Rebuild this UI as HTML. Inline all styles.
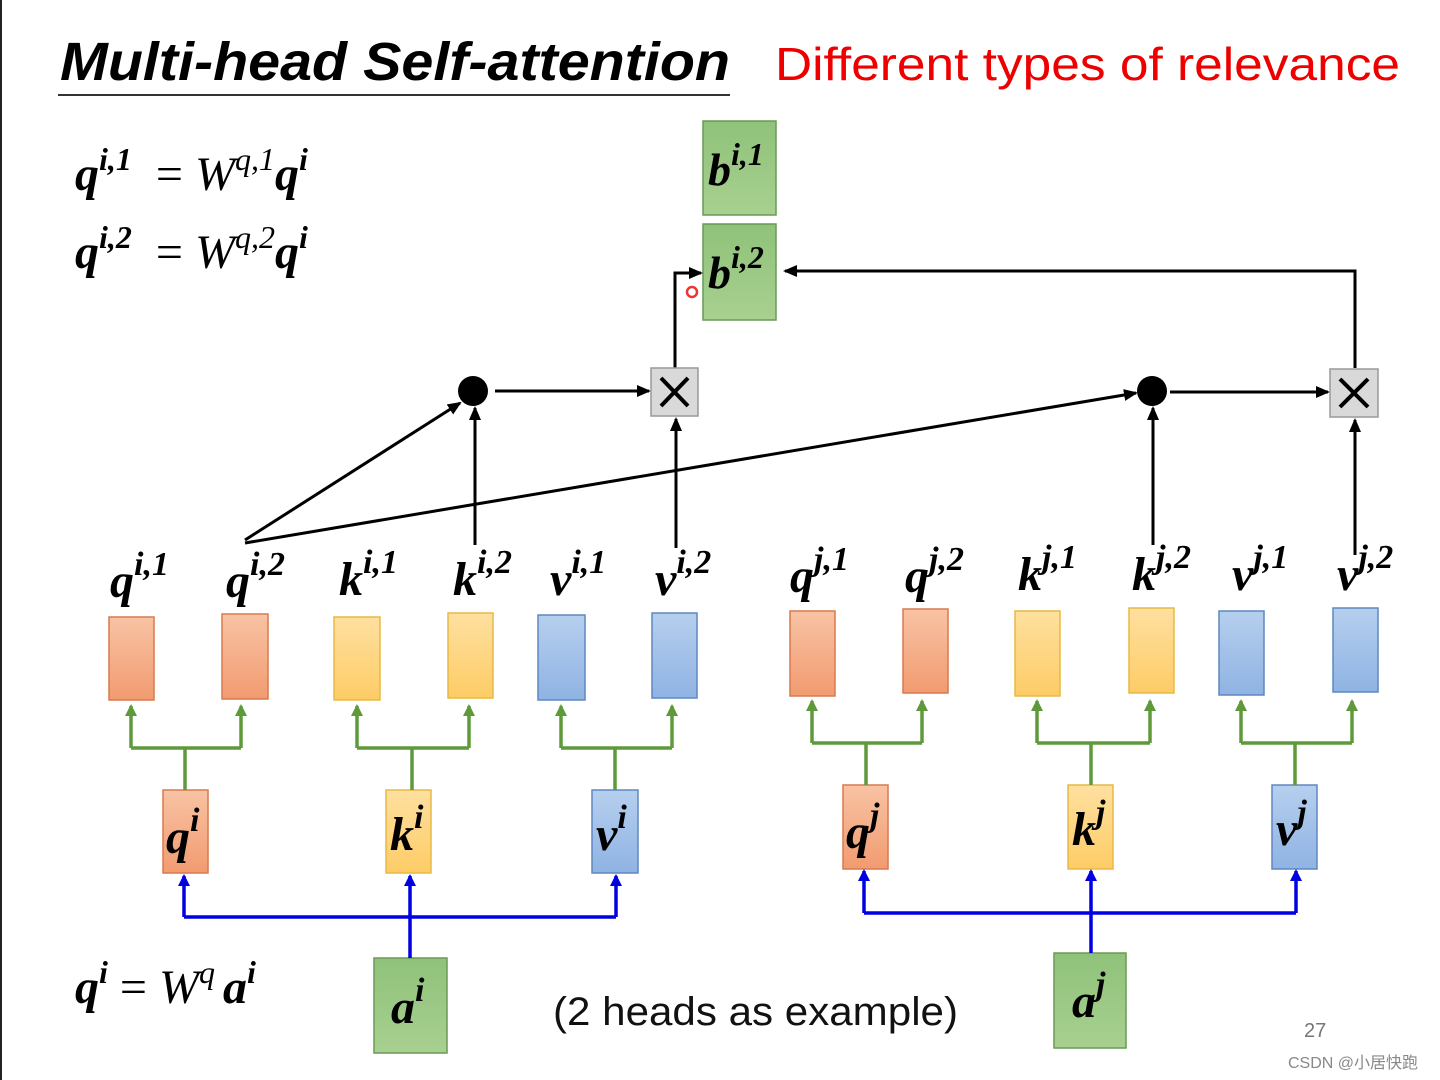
<!DOCTYPE html>
<html><head><meta charset="utf-8"><style>
html,body{margin:0;padding:0;background:#fff;}
svg{display:block;}
.m{font-family:"Liberation Serif",serif;font-weight:bold;font-style:italic;}
</style></head><body>
<svg width="1440" height="1080" viewBox="0 0 1440 1080" xmlns="http://www.w3.org/2000/svg">
<defs>
<marker id="ak" markerWidth="14" markerHeight="12" refX="12" refY="6" orient="auto" markerUnits="userSpaceOnUse"><path d="M0,0 L14,6 L0,12 z" fill="#000"/></marker>
<marker id="ag" markerWidth="12" markerHeight="12" refX="10" refY="6" orient="auto" markerUnits="userSpaceOnUse"><path d="M0,0 L12,6 L0,12 z" fill="#5e9a3a"/></marker>
<marker id="ab" markerWidth="12" markerHeight="12" refX="10" refY="6" orient="auto" markerUnits="userSpaceOnUse"><path d="M0,0 L12,6 L0,12 z" fill="#0000e0"/></marker>
<linearGradient id="gq" x1="0" y1="0" x2="0" y2="1"><stop offset="0" stop-color="#f8c3a4"/><stop offset="1" stop-color="#f29b70"/></linearGradient>
<linearGradient id="gk" x1="0" y1="0" x2="0" y2="1"><stop offset="0" stop-color="#ffe0a0"/><stop offset="1" stop-color="#fdcc66"/></linearGradient>
<linearGradient id="gv" x1="0" y1="0" x2="0" y2="1"><stop offset="0" stop-color="#b6cfee"/><stop offset="1" stop-color="#8fb3e3"/></linearGradient>
<linearGradient id="ga" x1="0" y1="0" x2="0" y2="1"><stop offset="0" stop-color="#8fc27a"/><stop offset="1" stop-color="#a8d090"/></linearGradient>
</defs>
<rect x="0" y="0" width="2" height="1080" fill="#222"/>
<text x="60" y="80" font-family="Liberation Sans,sans-serif" font-weight="bold" font-style="italic" font-size="54" textLength="670" lengthAdjust="spacingAndGlyphs">Multi-head Self-attention</text>
<line x1="58" y1="95" x2="730" y2="95" stroke="#333" stroke-width="2"/>
<text x="775" y="80" font-family="Liberation Sans,sans-serif" font-size="46" fill="#e00" textLength="625" lengthAdjust="spacingAndGlyphs">Different types of relevance</text>
<g class="m" font-size="48">
<text x="75" y="190">q<tspan font-size="32" dy="-20">i,1</tspan><tspan dy="20" font-style="normal" font-weight="normal" xml:space="preserve">  = </tspan><tspan font-weight="normal">W</tspan><tspan font-size="32" dy="-20" font-weight="normal">q,1</tspan><tspan dy="20">q</tspan><tspan font-size="32" dy="-20">i</tspan></text>
<text x="75" y="268">q<tspan font-size="32" dy="-20">i,2</tspan><tspan dy="20" font-style="normal" font-weight="normal" xml:space="preserve">  = </tspan><tspan font-weight="normal">W</tspan><tspan font-size="32" dy="-20" font-weight="normal">q,2</tspan><tspan dy="20">q</tspan><tspan font-size="32" dy="-20">i</tspan></text>
<text x="75" y="1003">q<tspan font-size="32" dy="-20">i</tspan><tspan dy="20" font-style="normal" font-weight="normal" xml:space="preserve"> = </tspan><tspan font-weight="normal">W</tspan><tspan font-size="32" dy="-20" font-weight="normal" xml:space="preserve">q </tspan><tspan dy="20">a</tspan><tspan font-size="32" dy="-20">i</tspan></text>
</g>
<rect x="703" y="121" width="73" height="94" fill="url(#ga)" stroke="#6a9a55" stroke-width="1.5"/>
<rect x="703" y="224" width="73" height="96" fill="url(#ga)" stroke="#6a9a55" stroke-width="1.5"/>
<g class="m" font-size="46">
<text x="708" y="185">b<tspan font-size="32" dy="-20">i,1</tspan></text>
<text x="708" y="288">b<tspan font-size="32" dy="-20">i,2</tspan></text>
</g>
<circle cx="692" cy="292" r="5" fill="none" stroke="#e33" stroke-width="2.5"/>
<g stroke="#000" stroke-width="3" fill="none">
<line x1="245" y1="540" x2="460" y2="403" marker-end="url(#ak)"/>
<line x1="245" y1="543" x2="1136" y2="393" marker-end="url(#ak)"/>
<line x1="475" y1="545" x2="475" y2="408" marker-end="url(#ak)"/>
<line x1="495" y1="391" x2="649" y2="391" marker-end="url(#ak)"/>
<line x1="676" y1="548" x2="676" y2="419" marker-end="url(#ak)"/>
<polyline points="675,368 675,273 701,273" marker-end="url(#ak)"/>
<polyline points="1355,368 1355,271 785,271" marker-end="url(#ak)"/>
<line x1="1153" y1="545" x2="1153" y2="408" marker-end="url(#ak)"/>
<line x1="1170" y1="392" x2="1328" y2="392" marker-end="url(#ak)"/>
<line x1="1355" y1="555" x2="1355" y2="420" marker-end="url(#ak)"/>
</g>
<circle cx="473" cy="391" r="15" fill="#000"/>
<circle cx="1152" cy="391" r="15" fill="#000"/>
<rect x="651" y="368" width="47" height="48" fill="#d9d9d9" stroke="#999" stroke-width="1.5"/>
<path d="M661,378 L688,406 M688,378 L661,406" stroke="#000" stroke-width="4"/>
<rect x="1330" y="369" width="48" height="48" fill="#d9d9d9" stroke="#999" stroke-width="1.5"/>
<path d="M1340,379 L1368,407 M1368,379 L1340,407" stroke="#000" stroke-width="4"/>
<g class="m" font-size="48">
<text x="110" y="597">q<tspan font-size="34" dy="-22">i,1</tspan></text>
<text x="226" y="597">q<tspan font-size="34" dy="-22">i,2</tspan></text>
<text x="339" y="595">k<tspan font-size="34" dy="-22">i,1</tspan></text>
<text x="453" y="595">k<tspan font-size="34" dy="-22">i,2</tspan></text>
<text x="550" y="595">v<tspan font-size="34" dy="-22">i,1</tspan></text>
<text x="655" y="595">v<tspan font-size="34" dy="-22">i,2</tspan></text>
<text x="790" y="592">q<tspan font-size="34" dy="-22">j,1</tspan></text>
<text x="905" y="592">q<tspan font-size="34" dy="-22">j,2</tspan></text>
<text x="1018" y="590">k<tspan font-size="34" dy="-22">j,1</tspan></text>
<text x="1132" y="590">k<tspan font-size="34" dy="-22">j,2</tspan></text>
<text x="1232" y="590">v<tspan font-size="34" dy="-22">j,1</tspan></text>
<text x="1337" y="590">v<tspan font-size="34" dy="-22">j,2</tspan></text>
</g>
<g stroke-width="1.5">
<rect x="109" y="617" width="45" height="83" fill="url(#gq)" stroke="#d87a4f"/>
<rect x="222" y="614" width="46" height="85" fill="url(#gq)" stroke="#d87a4f"/>
<rect x="334" y="617" width="46" height="83" fill="url(#gk)" stroke="#e8b845"/>
<rect x="448" y="613" width="45" height="85" fill="url(#gk)" stroke="#e8b845"/>
<rect x="538" y="615" width="47" height="85" fill="url(#gv)" stroke="#5f87bf"/>
<rect x="652" y="613" width="45" height="85" fill="url(#gv)" stroke="#5f87bf"/>
<rect x="790" y="611" width="45" height="85" fill="url(#gq)" stroke="#d87a4f"/>
<rect x="903" y="609" width="45" height="84" fill="url(#gq)" stroke="#d87a4f"/>
<rect x="1015" y="611" width="45" height="85" fill="url(#gk)" stroke="#e8b845"/>
<rect x="1129" y="608" width="45" height="85" fill="url(#gk)" stroke="#e8b845"/>
<rect x="1219" y="611" width="45" height="84" fill="url(#gv)" stroke="#5f87bf"/>
<rect x="1333" y="608" width="45" height="84" fill="url(#gv)" stroke="#5f87bf"/>
<rect x="163" y="790" width="45" height="83" fill="url(#gq)" stroke="#d87a4f"/>
<rect x="386" y="790" width="45" height="83" fill="url(#gk)" stroke="#e8b845"/>
<rect x="592" y="790" width="46" height="83" fill="url(#gv)" stroke="#5f87bf"/>
<rect x="843" y="785" width="45" height="84" fill="url(#gq)" stroke="#d87a4f"/>
<rect x="1068" y="785" width="45" height="84" fill="url(#gk)" stroke="#e8b845"/>
<rect x="1272" y="785" width="45" height="84" fill="url(#gv)" stroke="#5f87bf"/>
<rect x="374" y="958" width="73" height="95" fill="url(#ga)" stroke="#6a9a55"/>
<rect x="1054" y="953" width="72" height="95" fill="url(#ga)" stroke="#6a9a55"/>
</g>
<g class="m" font-size="48">
<text x="166" y="853">q<tspan font-size="34" dy="-22">i</tspan></text>
<text x="390" y="850">k<tspan font-size="34" dy="-22">i</tspan></text>
<text x="596" y="850">v<tspan font-size="34" dy="-22">i</tspan></text>
<text x="846" y="848">q<tspan font-size="34" dy="-22">j</tspan></text>
<text x="1072" y="845">k<tspan font-size="34" dy="-22">j</tspan></text>
<text x="1276" y="845">v<tspan font-size="34" dy="-22">j</tspan></text>
<text x="391" y="1023">a<tspan font-size="34" dy="-22">i</tspan></text>
<text x="1072" y="1017">a<tspan font-size="34" dy="-22">j</tspan></text>
</g>
<g stroke="#5e9a3a" stroke-width="3.5" fill="none">
<path d="M185,790 V748 M131,748 H241"/>
<line x1="131" y1="748" x2="131" y2="706" marker-end="url(#ag)"/>
<line x1="241" y1="748" x2="241" y2="706" marker-end="url(#ag)"/>
<path d="M412,790 V748 M357,748 H469"/>
<line x1="357" y1="748" x2="357" y2="706" marker-end="url(#ag)"/>
<line x1="469" y1="748" x2="469" y2="706" marker-end="url(#ag)"/>
<path d="M615,790 V748 M561,748 H672"/>
<line x1="561" y1="748" x2="561" y2="706" marker-end="url(#ag)"/>
<line x1="672" y1="748" x2="672" y2="706" marker-end="url(#ag)"/>
<path d="M866,785 V743 M812,743 H922"/>
<line x1="812" y1="743" x2="812" y2="701" marker-end="url(#ag)"/>
<line x1="922" y1="743" x2="922" y2="701" marker-end="url(#ag)"/>
<path d="M1091,785 V743 M1037,743 H1150"/>
<line x1="1037" y1="743" x2="1037" y2="701" marker-end="url(#ag)"/>
<line x1="1150" y1="743" x2="1150" y2="701" marker-end="url(#ag)"/>
<path d="M1295,785 V743 M1241,743 H1352"/>
<line x1="1241" y1="743" x2="1241" y2="701" marker-end="url(#ag)"/>
<line x1="1352" y1="743" x2="1352" y2="701" marker-end="url(#ag)"/>
</g>
<g stroke="#0000e0" stroke-width="3.5" fill="none">
<path d="M410,958 V917 M184,917 H616"/>
<line x1="184" y1="917" x2="184" y2="876" marker-end="url(#ab)"/>
<line x1="410" y1="917" x2="410" y2="876" marker-end="url(#ab)"/>
<line x1="616" y1="917" x2="616" y2="876" marker-end="url(#ab)"/>
<path d="M1091,953 V913 M864,913 H1296"/>
<line x1="864" y1="913" x2="864" y2="871" marker-end="url(#ab)"/>
<line x1="1091" y1="913" x2="1091" y2="871" marker-end="url(#ab)"/>
<line x1="1296" y1="913" x2="1296" y2="871" marker-end="url(#ab)"/>
</g>
<text x="553" y="1025" font-family="Liberation Sans,sans-serif" font-size="40" fill="#111" textLength="405" lengthAdjust="spacingAndGlyphs">(2 heads as example)</text>
<text x="1304" y="1037" font-family="Liberation Sans,sans-serif" font-size="20" fill="#777">27</text>
<text x="1288" y="1068" font-family="Liberation Sans,'Noto Sans CJK SC',sans-serif" font-size="16" fill="#888">CSDN @小居快跑</text>
</svg>
</body></html>
